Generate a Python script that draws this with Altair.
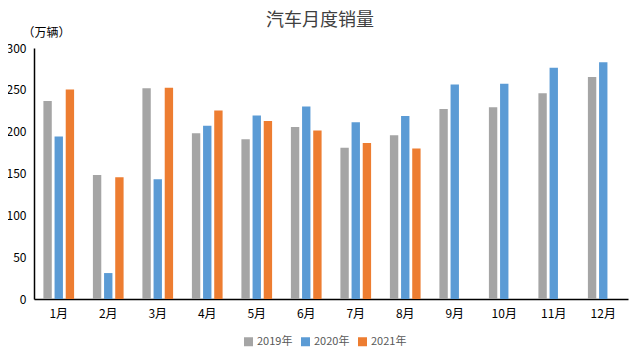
import altair as alt
import pandas as pd

months = ["1月", "2月", "3月", "4月", "5月", "6月", "7月", "8月", "9月", "10月", "11月", "12月"]
years = ["2019年", "2020年", "2021年"]
sales_2019 = [236.7, 148.1, 252.0, 198.0, 191.0, 205.6, 180.8, 195.8, 227.1, 229.1, 245.9, 265.3]
sales_2020 = [194.1, 31.0, 143.0, 207.0, 219.4, 230.0, 211.2, 218.6, 256.5, 257.3, 276.5, 283.1]
sales_2021 = [250.3, 145.5, 252.6, 225.2, 212.8, 201.5, 186.4, 179.9]
colors = ["#A5A5A5", "#5B9BD5", "#ED7D31"]
title_text = "汽车月度销量"

rows = []
for yr, series in zip(years, [sales_2019, sales_2020, sales_2021]):
    for m, v in zip(months, series):
        rows.append({"month": m, "year": yr, "value": v})
df = pd.DataFrame(rows)

font = "Noto Sans CJK SC"

chart = alt.Chart(df).mark_bar().encode(
    x=alt.X("month:N", sort=months,
            scale=alt.Scale(domain=months, paddingInner=0.38, paddingOuter=0.19),
            axis=alt.Axis(title=None, labelAngle=0, ticks=False, domainColor="#000000",
                          domainWidth=1.5, labelPadding=9, labelFontSize=12,
                          labelColor="#000000", labelFont=font)),
    xOffset=alt.XOffset("year:N", scale=alt.Scale(domain=years, paddingInner=0.25, paddingOuter=0)),
    y=alt.Y("value:Q", scale=alt.Scale(domain=[0, 300], nice=False),
            axis=alt.Axis(values=[0, 50, 100, 150, 200, 250, 300], grid=False, ticks=False,
                          domainColor="#000000", domainWidth=1.5, labelPadding=8,
                          labelFontSize=12, labelColor="#000000", labelFont=font,
                          title="（万辆）", titleAngle=0, titleX=-12, titleY=-16,
                          titleAlign="left", titleBaseline="middle", titleFontSize=12,
                          titleFontWeight="normal", titleColor="#000000", titleFont=font)),
    color=alt.Color("year:N", scale=alt.Scale(domain=years, range=colors),
                    legend=alt.Legend(title=None, orient="none", direction="horizontal",
                                      legendX=209, legendY=288, symbolType="square",
                                      symbolSize=81, symbolStrokeWidth=0, labelFontSize=11,
                                      labelColor="#595959", labelFont=font, columnPadding=7,
                                      labelOffset=3)),
).properties(
    width=594,
    height=251,
    padding={"left": 26, "top": 40, "right": 2, "bottom": 50},
    autosize=alt.AutoSizeParams(type="none"),
    title=alt.TitleParams(title_text, fontSize=18, fontWeight="normal", color="#404040",
                          font=font, anchor="middle", frame="group", dx=-11, offset=-4),
).configure_view(stroke=None)

chart.save("out.html", embed_options={"renderer": "svg", "actions": False})
